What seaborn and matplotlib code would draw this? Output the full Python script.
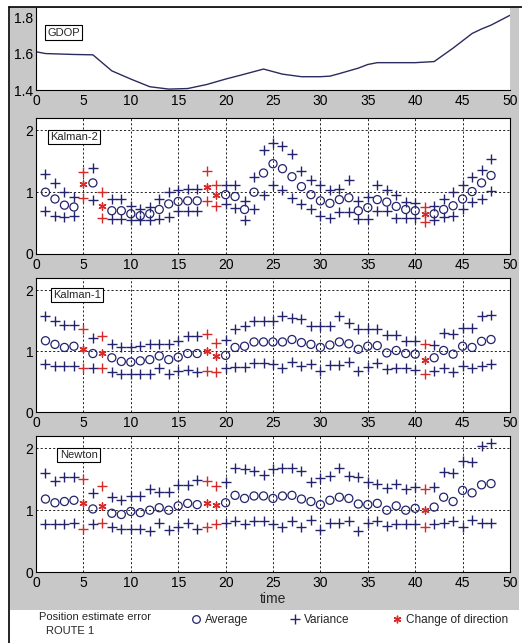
import numpy as np
import pandas as pd
import matplotlib
matplotlib.use("Agg")
import matplotlib.pyplot as plt
import seaborn as sns
from matplotlib.patches import Rectangle
from matplotlib.lines import Line2D

# ---------------- data ----------------
gdop_t = [0, 1, 4, 6, 8, 10, 12, 14, 16, 18, 20, 22, 24, 26, 28, 30, 31, 32, 34, 35,
          36, 38, 40, 42, 44, 46, 47, 48, 50]
gdop_v = [1.61, 1.60, 1.595, 1.593, 1.505, 1.46, 1.418, 1.405, 1.408, 1.43, 1.46, 1.487,
          1.515, 1.487, 1.473, 1.473, 1.476, 1.49, 1.52, 1.54, 1.55, 1.55, 1.55, 1.556,
          1.63, 1.71, 1.735, 1.756, 1.81]

time = list(range(1, 49))
change_times = [5, 7, 18, 19, 41]

k2_avg = [1.00, 0.89, 0.79, 0.76, 1.13, 1.15, 0.78, 0.70, 0.70, 0.65, 0.62, 0.65, 0.72, 0.81,
          0.85, 0.86, 0.86, 1.09, 0.96, 0.96, 0.93, 0.72, 1.00, 1.31, 1.46, 1.38, 1.25, 1.09,
          0.96, 0.86, 0.82, 0.88, 0.91, 0.70, 0.75, 0.88, 0.84, 0.77, 0.72, 0.70, 0.64, 0.65,
          0.72, 0.78, 0.89, 1.01, 1.15, 1.27]
k2_up = [1.29, 1.15, 1.01, 0.93, 1.32, 1.39, 1.00, 0.89, 0.89, 0.78, 0.73, 0.76, 0.89, 1.00,
         1.04, 1.05, 1.05, 1.35, 1.12, 1.12, 1.12, 0.86, 1.25, 1.68, 1.79, 1.74, 1.62, 1.35,
         1.19, 1.11, 1.04, 1.05, 1.19, 0.85, 0.93, 1.11, 1.03, 0.95, 0.84, 0.82, 0.76, 0.78,
         0.89, 1.01, 1.11, 1.25, 1.36, 1.54]
k2_lo = [0.70, 0.62, 0.60, 0.61, 0.91, 0.88, 0.59, 0.56, 0.56, 0.55, 0.55, 0.55, 0.57, 0.60,
         0.69, 0.69, 0.69, 0.86, 0.78, 0.81, 0.75, 0.55, 0.72, 0.96, 1.11, 1.03, 0.91, 0.81,
         0.72, 0.61, 0.59, 0.68, 0.68, 0.56, 0.57, 0.69, 0.69, 0.59, 0.59, 0.59, 0.52, 0.55,
         0.60, 0.61, 0.72, 0.84, 0.89, 1.02]

k1_avg = [1.17, 1.11, 1.06, 1.08, 1.04, 0.96, 0.97, 0.89, 0.83, 0.82, 0.84, 0.86, 0.92, 0.86,
          0.90, 0.96, 0.96, 1.00, 0.92, 0.93, 1.06, 1.08, 1.15, 1.15, 1.15, 1.15, 1.19, 1.14,
          1.11, 1.06, 1.10, 1.15, 1.12, 1.03, 1.08, 1.09, 0.97, 1.01, 0.96, 0.95, 0.85, 0.89,
          1.01, 0.95, 1.08, 1.06, 1.16, 1.19]
k1_up = [1.57, 1.49, 1.43, 1.43, 1.37, 1.22, 1.24, 1.11, 1.06, 1.06, 1.08, 1.11, 1.11, 1.11,
         1.16, 1.24, 1.24, 1.28, 1.14, 1.19, 1.37, 1.41, 1.50, 1.50, 1.50, 1.57, 1.55, 1.53,
         1.41, 1.41, 1.41, 1.57, 1.46, 1.37, 1.37, 1.37, 1.27, 1.27, 1.16, 1.17, 1.11, 1.10,
         1.29, 1.28, 1.38, 1.38, 1.57, 1.59]
k1_lo = [0.78, 0.76, 0.76, 0.76, 0.73, 0.72, 0.73, 0.66, 0.63, 0.63, 0.63, 0.63, 0.72, 0.63,
         0.68, 0.69, 0.65, 0.68, 0.66, 0.72, 0.74, 0.74, 0.81, 0.81, 0.79, 0.72, 0.82, 0.76,
         0.79, 0.68, 0.77, 0.77, 0.82, 0.68, 0.74, 0.81, 0.70, 0.72, 0.72, 0.69, 0.63, 0.68,
         0.73, 0.66, 0.76, 0.73, 0.76, 0.78]

nw_avg = [1.18, 1.12, 1.14, 1.16, 1.11, 1.02, 1.07, 0.95, 0.93, 0.98, 0.96, 1.00, 1.04, 1.00,
          1.07, 1.11, 1.09, 1.11, 1.09, 1.12, 1.24, 1.19, 1.23, 1.23, 1.19, 1.23, 1.24, 1.18,
          1.14, 1.09, 1.16, 1.21, 1.19, 1.10, 1.09, 1.11, 1.00, 1.07, 1.00, 1.03, 1.00, 1.05,
          1.21, 1.14, 1.32, 1.28, 1.41, 1.43]
nw_up = [1.60, 1.48, 1.53, 1.53, 1.51, 1.28, 1.39, 1.21, 1.16, 1.23, 1.23, 1.34, 1.30, 1.30,
         1.40, 1.40, 1.49, 1.48, 1.39, 1.46, 1.68, 1.67, 1.64, 1.57, 1.66, 1.69, 1.69, 1.63,
         1.46, 1.52, 1.55, 1.68, 1.55, 1.53, 1.45, 1.42, 1.36, 1.42, 1.34, 1.37, 1.35, 1.37,
         1.62, 1.60, 1.80, 1.78, 2.04, 2.08]
nw_lo = [0.78, 0.78, 0.78, 0.79, 0.70, 0.78, 0.79, 0.73, 0.70, 0.70, 0.70, 0.66, 0.80, 0.68,
         0.73, 0.80, 0.70, 0.73, 0.78, 0.80, 0.82, 0.78, 0.82, 0.82, 0.78, 0.72, 0.83, 0.73,
         0.84, 0.68, 0.79, 0.79, 0.82, 0.67, 0.79, 0.82, 0.74, 0.78, 0.78, 0.77, 0.72, 0.77,
         0.79, 0.82, 0.72, 0.84, 0.79, 0.79]

panels = [("Kalman-2", k2_avg, k2_up, k2_lo),
          ("Kalman-1", k1_avg, k1_up, k1_lo),
          ("Newton", nw_avg, nw_up, nw_lo)]

x_ticks = [0, 5, 10, 15, 20, 25, 30, 35, 40, 45, 50]

# ---------------- style ----------------
sns.set_style("white")
plt.rcParams['font.family'] = ['Liberation Sans', 'DejaVu Sans']

NAVY = '#24246e'
RED = '#d42a2a'
GREY = '#c8c8c8'
W, H = 522, 643

fig = plt.figure(figsize=(W / 100, H / 100), dpi=100)
fig.patch.set_facecolor('white')
fig.add_artist(Rectangle((10 / W, 1 - 610 / H), (519 - 10) / W, (610 - 7) / H,
                         transform=fig.transFigure, facecolor=GREY, edgecolor='none', zorder=-10))
fig.add_artist(Line2D([9 / W, 9 / W], [0, 1 - 7 / H], transform=fig.transFigure, color='k', lw=1.2))
fig.add_artist(Line2D([9 / W, 1], [1 - 7 / H, 1 - 7 / H], transform=fig.transFigure, color='k', lw=1.2))

L, R = 36, 510


def add_ax(top, bottom):
    return fig.add_axes([L / W, 1 - bottom / H, (R - L) / W, (bottom - top) / H])


def style_ticks(ax):
    ax.tick_params(axis='both', direction='in', length=3, width=0.8, labelsize=10,
                   colors='k', pad=2)
    ax.tick_params(axis='x', pad=3)


# ---- GDOP ----
ax0 = add_ax(8, 90)
ax0.set_facecolor('white')
sns.lineplot(x=gdop_t, y=gdop_v, ax=ax0, color='#2b2b5e', lw=1.0)
ax0.set_xlim(0, 50)
ax0.set_ylim(1.4, 1.85)
ax0.set_xticks(x_ticks)
ax0.set_yticks([1.4, 1.6, 1.8])
ax0.set_yticklabels(['1.4', '1.6', '1.8'])
for s in ['top', 'right']:
    ax0.spines[s].set_visible(False)
for s in ['left', 'bottom']:
    ax0.spines[s].set_color('k')
    ax0.spines[s].set_linewidth(0.8)
style_ticks(ax0)
ax0.text(0.024, 0.70, 'GDOP', transform=ax0.transAxes, fontsize=8, va='center', ha='left',
         bbox=dict(boxstyle='square,pad=0.2', facecolor='white', edgecolor='k', lw=0.8))

# ---- point panels ----
tops = [(118, 254), (278, 412), (436, 572)]
label_pos = [(0.03, 0.86), (0.036, 0.873), (0.05, 0.86)]

for (name, avg, up, lo), (top, bot), (lx, ly) in zip(panels, tops, label_pos):
    ax = add_ax(top, bot)
    ax.set_facecolor('white')
    df = pd.DataFrame({'t': time, 'avg': avg, 'up': up, 'lo': lo})
    df['chg'] = df['t'].isin(change_times)
    norm = df[~df['chg']]
    chg = df[df['chg']]

    sns.scatterplot(data=norm, x='t', y='avg', ax=ax, marker='o', s=34, facecolor='none',
                    edgecolor=NAVY, linewidth=0.9, legend=False, zorder=3)
    for col in ['up', 'lo']:
        sns.scatterplot(data=norm, x='t', y=col, ax=ax, marker='+', s=60, color=NAVY,
                        linewidth=1.0, legend=False, zorder=3)
        sns.scatterplot(data=chg, x='t', y=col, ax=ax, marker='+', s=60, color=RED,
                        linewidth=1.0, legend=False, zorder=4)
    sns.scatterplot(data=chg, x='t', y='avg', ax=ax, marker=(6, 2, 0), s=26, color=RED,
                    linewidth=1.0, legend=False, zorder=4)

    ax.set_xlim(0, 50)
    ax.set_ylim(0, 2.2)
    ax.set_xticks(x_ticks)
    ax.set_yticks([0, 1, 2])
    ax.grid(True, linestyle=(0, (2.5, 2.5)), color='k', lw=0.6)
    ax.set_axisbelow(True)
    for s in ax.spines.values():
        s.set_color('k')
        s.set_linewidth(0.8)
    style_ticks(ax)
    ax.set_xlabel('')
    ax.set_ylabel('')
    ax.text(lx, ly, name, transform=ax.transAxes, fontsize=8, va='center', ha='left', zorder=5,
            bbox=dict(boxstyle='square,pad=0.2', facecolor='white', edgecolor='k', lw=0.8))
    last_ax = ax

last_ax.set_xlabel('time', fontsize=10, labelpad=1)

# ---- bottom legend ----
fig.text(95 / W, 1 - 617 / H, 'Position estimate error', fontsize=8, ha='center', va='center')
fig.text(70 / W, 1 - 631 / H, 'ROUTE 1', fontsize=8, ha='center', va='center')

items = [
    (Line2D([], [], marker='o', ls='none', mfc='none', mec=NAVY, ms=5.5, mew=0.9), 'Average', 191),
    (Line2D([], [], marker='+', ls='none', color=NAVY, ms=7, mew=1.0), 'Variance', 290),
    (Line2D([], [], marker=(6, 2, 0), ls='none', color=RED, ms=5.5, mew=1.0), 'Change of direction', 392),
]
for h, lab, xp in items:
    fig.legend(handles=[h], labels=[lab], loc='center left', bbox_to_anchor=(xp / W, 1 - 620 / H),
               frameon=False, fontsize=8.5, handlelength=0.8, handletextpad=0.4,
               borderpad=0, borderaxespad=0)

fig.savefig('out.png', dpi=100)
